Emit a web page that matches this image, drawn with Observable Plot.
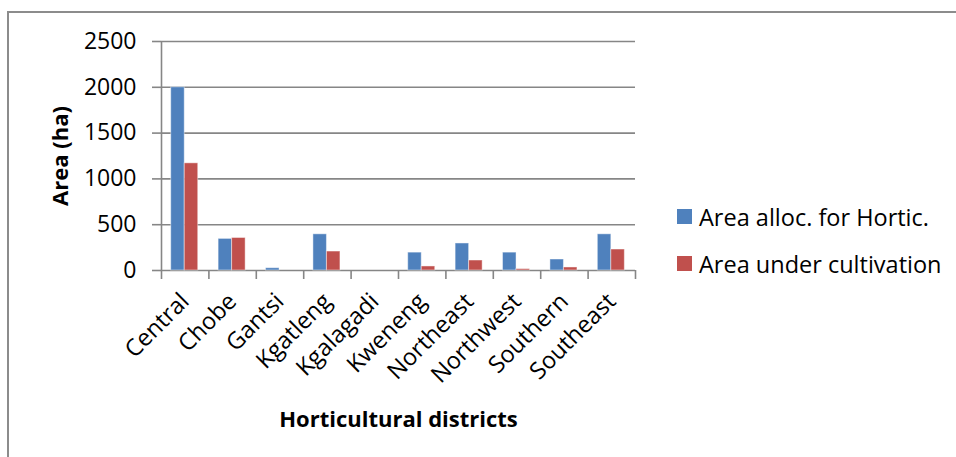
<!DOCTYPE html>
<html><head><meta charset="utf-8">
<script src="https://cdn.jsdelivr.net/npm/d3@7"></script>
<script src="https://cdn.jsdelivr.net/npm/@observablehq/plot@0.6"></script>
<style>
body{margin:0;background:#fff;}
#wrap{position:relative;width:956px;height:457px;font-family:"Open Sans",sans-serif;overflow:hidden;background:#fff;}
#frame{position:absolute;left:7px;top:11px;right:-4px;bottom:-4px;border-top:2px solid #8c8c8c;border-left:2px solid #8c8c8c;}
#chart{position:absolute;left:0;top:0;}
#legend{position:absolute;left:677px;top:193px;font-size:23.5px;color:#000;}
.item{display:flex;align-items:center;height:47px;white-space:nowrap;}
.sw{width:15px;height:15px;margin-right:7px;}
</style></head><body>
<div id="wrap"><div id="frame"></div><div id="chart"></div><div id="legend"></div></div>
<script>
const districts = ["Central","Chobe","Gantsi","Kgatleng","Kgalagadi","Kweneng","Northeast","Northwest","Southern","Southeast"];
const allocated = [2000,345,25,395,0,195,295,195,120,395];
const cultivated = [1170,355,0,207,0,44,109,15,33,229];
const seriesNames = ["Area alloc. for Hortic.","Area under cultivation"];
const seriesColors = ["#4F81BD","#C0504D"];
const yTicks = [0,500,1000,1500,2000,2500];
const yTitle = "Area (ha)";
const xTitle = "Horticultural districts";

const rows = [];
districts.forEach((d, i) => {
  rows.push({district: d, i, s: 0, series: seriesNames[0], value: allocated[i]});
  rows.push({district: d, i, s: 1, series: seriesNames[1], value: cultivated[i]});
});

const grid = "#868686";
const chart = Plot.plot({
  width: 956, height: 457,
  marginLeft: 161, marginRight: 321, marginTop: 41, marginBottom: 187,
  style: {fontFamily: "Open Sans", fontSize: "23px", color: "#000", background: "transparent", overflow: "visible"},
  x: {domain: [0, districts.length], axis: null},
  y: {domain: [0, 2500], axis: null},
  color: {domain: seriesNames, range: seriesColors},
  marks: [
    Plot.ruleY(yTicks, {stroke: grid, strokeWidth: 1.6}),
    Plot.axisY({ticks: yTicks, label: null, tickSize: 9, tickPadding: 16, stroke: grid, strokeWidth: 1.6, fontSize: 23, tickFormat: d => String(d)}),
    Plot.ruleX([0], {y1: 0, y2: 2500, stroke: grid, strokeWidth: 1.6}),
    Plot.axisX({ticks: d3.range(districts.length + 1), label: null, tickSize: 9, tickFormat: () => "", stroke: grid, strokeWidth: 1.6}),
    Plot.axisX({ticks: districts.map((d, i) => i + 0.5), label: null, tickFormat: v => districts[Math.floor(v)], tickSize: 0, tickPadding: 27, tickRotate: -45, fontSize: 23.5}),
    Plot.rectY(rows, {
      x1: d => d.i + 0.205 + d.s * 0.285,
      x2: d => d.i + 0.205 + (d.s + 1) * 0.285,
      y1: 0, y2: "value",
      fill: "series", stroke: "#ffffff", strokeOpacity: 0.45, strokeWidth: 1
    }),
    Plot.text([yTitle], {frameAnchor: "left", textAnchor: "middle", dx: -101, rotate: -90, fontWeight: "bold", fontSize: 22, fill: "#000"}),
    Plot.text([xTitle], {frameAnchor: "bottom", textAnchor: "middle", dy: 156, fontWeight: "bold", fontSize: 22, fill: "#000"})
  ]
});
document.getElementById("chart").appendChild(chart);

const legend = document.getElementById("legend");
seriesNames.forEach((name, k) => {
  const item = document.createElement("div");
  item.className = "item";
  const sw = document.createElement("div");
  sw.className = "sw";
  sw.style.background = seriesColors[k];
  const t = document.createElement("span");
  t.textContent = name;
  item.appendChild(sw); item.appendChild(t);
  legend.appendChild(item);
});
</script>
</body></html>
